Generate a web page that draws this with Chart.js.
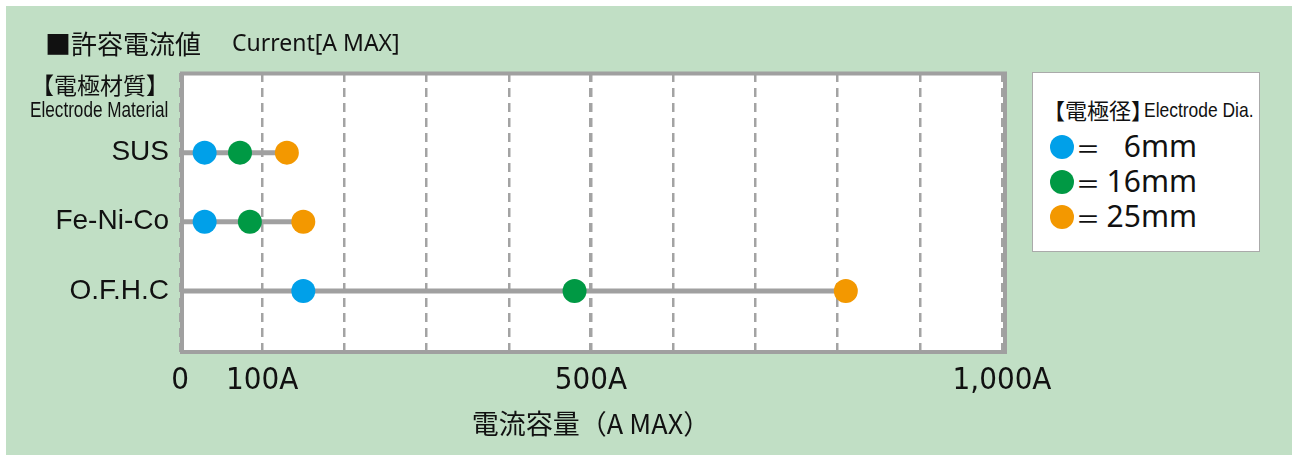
<!DOCTYPE html>
<html>
<head>
<meta charset="utf-8">
<script src="https://cdn.jsdelivr.net/npm/chart.js@4"></script>
<style>
  body { margin: 0; background: #fff; }
  #wrap { position: relative; width: 1292px; height: 455px; overflow: hidden; }
  #bg { position: absolute; left: 6px; top: 6px; right: 0; bottom: 0; background: #c1dfc5; }
  canvas { position: absolute; left: 0; top: 0; }
  .t { position: absolute; white-space: nowrap; color: #111; font-family: 'Noto Sans CJK JP', sans-serif; line-height: 1; }
  .cond { font-family: 'Liberation Sans', Arial, sans-serif; transform-origin: left top; }
  #legend { position: absolute; left: 1032px; top: 72px; width: 226px; height: 178px; border: 1px solid #aaa; background: #fff; }
  .item { position: absolute; left: 17px; height: 28px; width: 200px; }
  .dot { position: absolute; left: 0; top: 2px; width: 24px; height: 24px; border-radius: 50%; }
  .eq { position: absolute; left: 26px; top: 3px; font-size: 24px; }
  .val { position: absolute; right: 53px; top: -2px; font-size: 30px; font-family: 'Noto Sans', sans-serif; }
</style>
</head>
<body>
<div id="wrap">
  <div id="bg"></div>
  <canvas id="chart" width="1292" height="455"></canvas>
  <div class="t" style="left:45px;top:30px;font-size:26px">■許容電流値</div>
  <div class="t" style="left:232px;top:31px;font-size:23px;font-family:'Noto Sans',sans-serif">Current[A MAX]</div>
  <div class="t" style="left:31px;top:73px;font-size:23px">【電極材質】</div>
  <div class="t cond" style="left:30px;top:99px;font-size:22px;transform:scaleX(0.78)">Electrode Material</div>
  <div id="legend">
    <div class="t" style="left:10px;top:25px;font-size:22px">【電極径】</div>
    <div class="t cond" style="left:111px;top:26px;font-size:21px;transform:scaleX(0.83)">Electrode Dia.</div>
  </div>
</div>
<script>
const categories = ['SUS', 'Fe-Ni-Co', 'O.F.H.C']
const dia6 = [30, 30, 150]
const dia16 = [73, 85, 480]
const dia25 = [130, 150, 810]
const diaLabels = ['6mm', '16mm', '25mm']
const diaColors = ['#00a0e9', '#009944', '#f39800']
const xTicks = [0, 100, 500, 1000]
const xTickText = ['0', '100A', '500A', '1,000A']

const series = [dia6, dia16, dia25]

// legend boxes built from the same arrays
const legend = document.querySelector('#legend')
diaLabels.forEach((label, k) => {
  const item = document.createElement('div')
  item.className = 'item'
  item.style.top = (60 + k * 35) + 'px'
  item.innerHTML = '<div class="dot" style="background:' + diaColors[k] + '"></div>' +
    '<div class="t eq">＝</div><div class="t val">' + label + '</div>'
  legend.appendChild(item)
})

const frame = {
  id: 'frame',
  beforeDraw(c) {
    const a = c.chartArea
    c.ctx.save()
    c.ctx.fillStyle = '#fff'
    c.ctx.fillRect(a.left, a.top, a.right - a.left + 3, a.bottom - a.top)
    c.ctx.restore()
  },
  beforeDatasetsDraw(c) {
    const a = c.chartArea
    const ctx = c.ctx
    ctx.save()
    ctx.strokeStyle = '#a0a0a0'
    ctx.lineWidth = 4
    ctx.strokeRect(a.left + 2, a.top + 0.5, a.right + 3 - (a.left + 2), a.bottom - (a.top + 0.5))
    ctx.restore()
  }
}

const lineSets = categories.map((c, i) => ({
  label: c,
  data: [{ x: 0, y: i }, { x: Math.max(dia6[i], dia16[i], dia25[i]), y: i }],
  showLine: true,
  borderColor: '#a0a0a0',
  borderWidth: 5,
  pointRadius: 0,
  order: 2
}))

const pointSets = series.map((vals, k) => ({
  label: diaLabels[k],
  data: vals.map((v, i) => ({ x: v, y: i })),
  backgroundColor: diaColors[k],
  borderWidth: 0,
  pointRadius: 12,
  pointHoverRadius: 12,
  order: 1
}))

new Chart(document.querySelector('#chart').getContext('2d'), {
  type: 'scatter',
  data: { datasets: [...lineSets, ...pointSets] },
  options: {
    responsive: false,
    animation: false,
    events: [],
    layout: { padding: { top: 73, right: 290, bottom: 0, left: 0 } },
    plugins: { legend: { display: false }, tooltip: { enabled: false } },
    scales: {
      x: {
        type: 'linear',
        min: 0,
        max: 1000,
        afterFit: s => { s.height = 103 },
        ticks: {
          stepSize: 100,
          autoSkip: false,
          maxRotation: 0,
          padding: 10,
          color: '#111',
          font: { size: 31, family: "'Liberation Sans Narrow', 'DejaVu Sans Condensed', 'Liberation Sans', sans-serif" },
          callback: v => {
            const k = xTicks.indexOf(v)
            return k >= 0 ? xTickText[k] : ''
          }
        },
        grid: {
          color: '#a3a3a3',
          drawTicks: false,
          lineWidth: ctx => (ctx.tick && ctx.tick.value === 500 ? 3.5 : 2.5)
        },
        border: { display: false, dash: [9, 6] },
        title: {
          display: true,
          text: '電流容量（A MAX）',
          color: '#111',
          font: { size: 27, family: "'Noto Sans CJK JP', sans-serif" },
          padding: { top: 0, bottom: 15 }
        }
      },
      y: {
        type: 'linear',
        reverse: true,
        min: -1.152,
        max: 2.884,
        afterFit: s => { s.width = 180 },
        afterBuildTicks: s => { s.ticks = categories.map((c, i) => ({ value: i })) },
        ticks: {
          padding: 3,
          color: '#111',
          font: { size: 28, family: "'Liberation Sans', Arial, sans-serif" },
          callback: v => categories[v]
        },
        grid: { display: false },
        border: { display: false }
      }
    }
  },
  plugins: [frame]
})
</script>
</body>
</html>
